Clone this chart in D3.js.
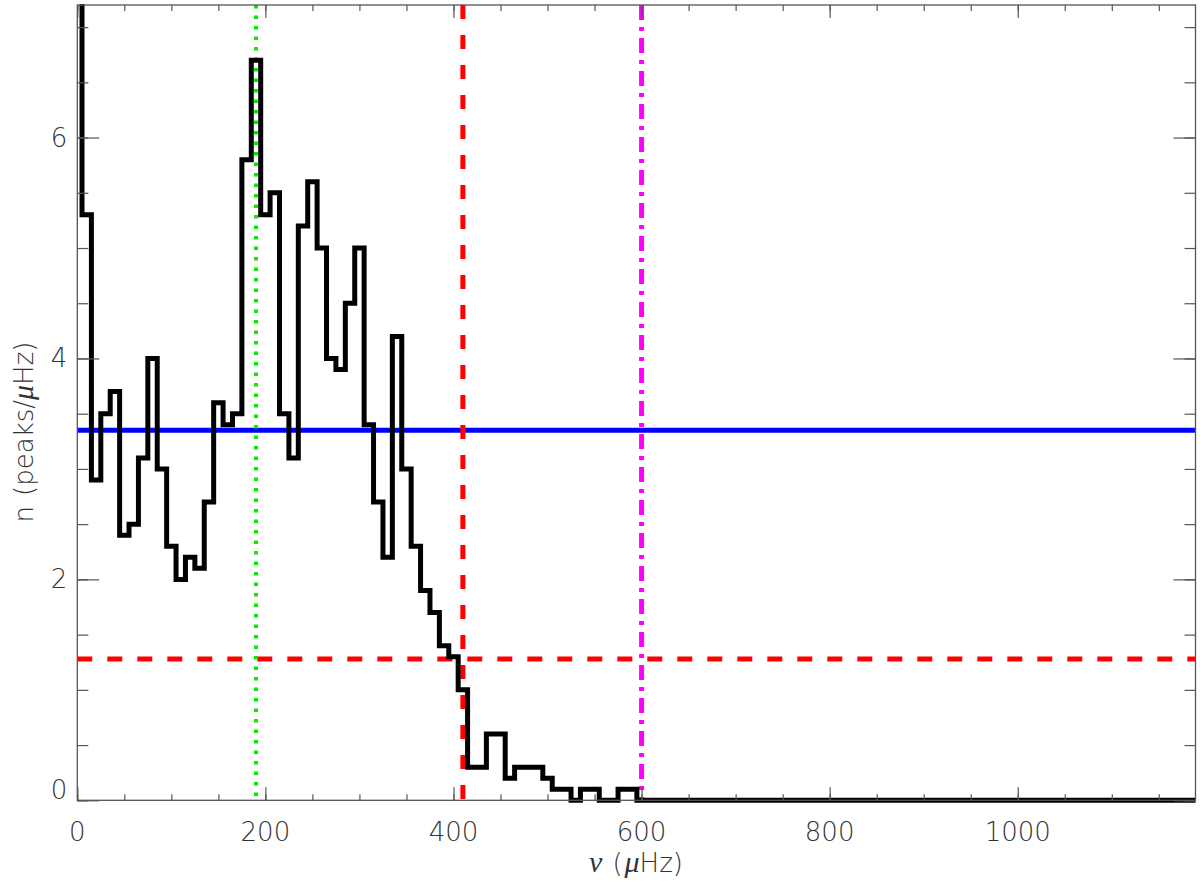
<html>
<script src="https://d3js.org/d3.v7.min.js"></script>
<body style="margin:0;background:#fff">
<svg width=1200 height=885></svg>
<script>
// bin centres (muHz) and peak density per bin
const nuBins = [0, 10, 20, 30, 40, 50, 60, 70, 80, 90,
  100, 110, 120, 130, 140, 150, 160, 170, 180, 190,
  200, 210, 220, 230, 240, 250, 260, 270, 280, 290,
  300, 310, 320, 330, 340, 350, 360, 370, 380, 390,
  400, 410, 420, 430, 440, 450, 460, 470, 480, 490,
  500, 510, 520, 530, 540, 550, 560, 570, 580, 590,
  600, 1190];
const density = [7.6, 5.3, 2.9, 3.5, 3.7, 2.4, 2.5, 3.1, 4.0, 3.0,
  2.3, 2.0, 2.2, 2.1, 2.7, 3.6, 3.4, 3.5, 5.8, 6.7,
  5.3, 5.5, 3.5, 3.1, 5.2, 5.6, 5.0, 4.0, 3.9, 4.5,
  5.0, 3.4, 2.7, 2.2, 4.2, 3.0, 2.3, 1.9, 1.7, 1.4,
  1.3, 1.0, 0.3, 0.3, 0.6, 0.6, 0.2, 0.3, 0.3, 0.3,
  0.2, 0.1, 0.1, 0.0, 0.1, 0.1, 0.0, 0.0, 0.1, 0.1,
  0.0, 0.0];

const meanLevel = 3.35;      // blue solid
const thresholdLevel = 1.28; // red dashed horizontal
const nuMax = 190;           // green dotted
const nuCut = 410;           // red dashed vertical
const nuLimit = 600;         // magenta dash-dot

const xTicks = [0, 200, 400, 600, 800, 1000];
const yTicks = [0, 2, 4, 6];

const svg = d3.select("svg");
const mLeft = 77.3, mRight = 1195.5, mTop = 5, mBottom = 800.3;
const width = mRight - mLeft, height = mBottom - mTop;
const g = svg.append("g").attr("transform", "translate(" + mLeft + "," + mTop + ")");

const x = d3.scaleLinear().domain([0, 1189]).range([0, width]);
const y = d3.scaleLinear().domain([0, 7.2]).range([height, 0]);

const axisColor = "#555";
const tickFont = "'DejaVu Sans', sans-serif";
const greekFont = "'Liberation Serif', serif";

//---------------- clip ----------------
svg.append("defs").append("clipPath").attr("id", "plot")
  .append("rect").attr("x", 0).attr("y", -1).attr("width", width).attr("height", height + 4);

const plot = g.append("g").attr("clip-path", "url(#plot)");

//---------------- reference lines ----------------
plot.append("line")
  .attr("x1", 0).attr("x2", width)
  .attr("y1", y(meanLevel)).attr("y2", y(meanLevel))
  .style("stroke", "#0000ff").style("stroke-width", 5);

plot.append("line")
  .attr("x1", 0).attr("x2", width)
  .attr("y1", y(thresholdLevel)).attr("y2", y(thresholdLevel))
  .style("stroke", "#ff0000").style("stroke-width", 5)
  .style("stroke-dasharray", "15,15");

plot.append("line")
  .attr("x1", x(nuMax)).attr("x2", x(nuMax))
  .attr("y1", 0).attr("y2", height)
  .style("stroke", "#00ee00").style("stroke-width", 4)
  .style("stroke-dasharray", "3.5,7");

plot.append("line")
  .attr("x1", x(nuCut)).attr("x2", x(nuCut))
  .attr("y1", 0).attr("y2", height)
  .style("stroke", "#ff0000").style("stroke-width", 5)
  .style("stroke-dasharray", "14,16");

plot.append("line")
  .attr("x1", x(nuLimit)).attr("x2", x(nuLimit))
  .attr("y1", 0).attr("y2", height)
  .style("stroke", "#ff00ff").style("stroke-width", 5)
  .style("stroke-dasharray", "15,7,4,7");

//---------------- histogram ----------------
const line = d3.line()
  .x((d, i) => x(nuBins[i]))
  .y(d => y(d))
  .curve(d3.curveStep);

plot.append("path")
  .datum(density)
  .attr("d", line)
  .style("fill", "none")
  .style("stroke", "#000")
  .style("stroke-width", 5)
  .style("stroke-linejoin", "miter");

//---------------- axes ----------------
function styleAxis(sel) {
  sel.select(".domain").remove();
  sel.selectAll("line").style("stroke", axisColor).style("stroke-width", 1.2);
  sel.selectAll("text").remove();
}

// box
g.append("rect").attr("width", width).attr("height", height)
  .style("fill", "none").style("stroke", axisColor).style("stroke-width", 1.3);

const xMinor = d3.range(0, 1189, 50);
const yMinor = d3.range(0, 7.21, 0.5);

g.append("g").attr("transform", "translate(0," + height + ")")
  .call(d3.axisTop(x).tickValues(xMinor).tickSize(6)).call(styleAxis);
g.append("g").attr("transform", "translate(0," + height + ")")
  .call(d3.axisTop(x).tickValues(xTicks).tickSize(13)).call(styleAxis);
g.append("g")
  .call(d3.axisBottom(x).tickValues(xMinor).tickSize(6)).call(styleAxis);
g.append("g")
  .call(d3.axisBottom(x).tickValues(xTicks).tickSize(13)).call(styleAxis);

g.append("g").call(d3.axisRight(y).tickValues(yMinor).tickSize(11)).call(styleAxis);
g.append("g").call(d3.axisRight(y).tickValues(yTicks).tickSize(22)).call(styleAxis);
g.append("g").attr("transform", "translate(" + width + ",0)")
  .call(d3.axisLeft(y).tickValues(yMinor).tickSize(11)).call(styleAxis);
g.append("g").attr("transform", "translate(" + width + ",0)")
  .call(d3.axisLeft(y).tickValues(yTicks).tickSize(22)).call(styleAxis);

// tick labels
g.selectAll(".xlab").data(xTicks).enter().append("text")
  .attr("x", d => x(d)).attr("y", height + 41)
  .attr("text-anchor", "middle")
  .style("font-family", tickFont).style("font-weight", 200)
  .style("font-size", "26px").style("fill", "#333")
  .text(d => d);

g.selectAll(".ylab").data(yTicks).enter().append("text")
  .attr("x", -10).attr("y", d => y(d) + (d === 0 ? -1 : 9))
  .attr("text-anchor", "end")
  .style("font-family", tickFont).style("font-weight", 200)
  .style("font-size", "26px").style("fill", "#333")
  .text(d => d);

// axis titles
const xt = svg.append("text")
  .attr("x", 636).attr("y", 872)
  .attr("text-anchor", "middle")
  .style("font-family", tickFont).style("font-weight", 200)
  .style("font-size", "26px").style("fill", "#333");
xt.append("tspan").style("font-family", greekFont).style("font-style", "italic").style("font-size", "30px").text("\u03bd");
xt.append("tspan").attr("dx", 10).text("(");
xt.append("tspan").attr("dx", 2).style("font-family", greekFont).style("font-style", "italic").style("font-size", "30px").text("\u03bc");
xt.append("tspan").text("Hz)");

const yt = svg.append("text")
  .attr("transform", "translate(33,432) rotate(-90)")
  .attr("text-anchor", "middle")
  .style("font-family", tickFont).style("font-weight", 200)
  .style("font-size", "26px").style("fill", "#333");
yt.append("tspan").text("n");
yt.append("tspan").attr("dx", 10).text("(peaks/");
yt.append("tspan").style("font-family", greekFont).style("font-style", "italic").style("font-size", "30px").text("\u03bc");
yt.append("tspan").text("Hz)");
</script>
</body>
</html>
